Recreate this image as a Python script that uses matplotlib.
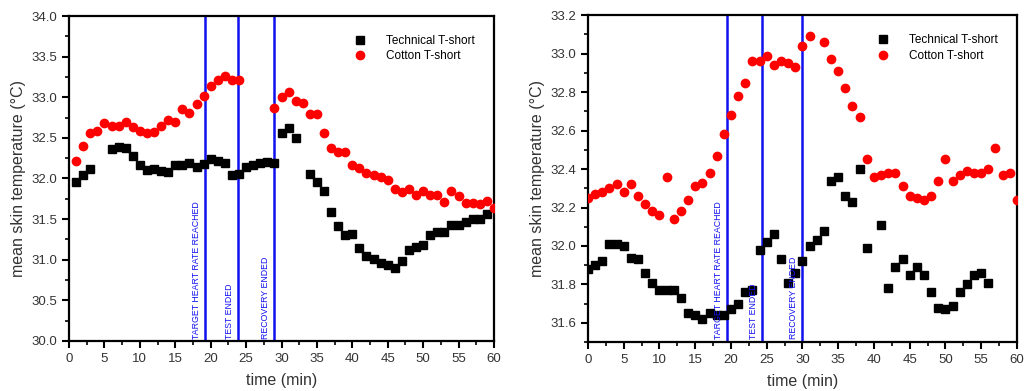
import matplotlib
matplotlib.use("Agg")
import matplotlib.pyplot as plt
from matplotlib.ticker import MultipleLocator, FormatStrFormatter

plt.rcParams['font.family'] = ['Liberation Sans', 'DejaVu Sans']

# left panel
left_tech_t = [1, 2, 3] + list(range(6, 33)) + list(range(34, 60))
left_tech_v = [31.96, 32.04, 32.12,
               32.36, 32.39, 32.38, 32.28, 32.17, 32.11, 32.12, 32.09, 32.08, 32.17,
               32.17, 32.19, 32.14, 32.18, 32.24, 32.22, 32.19, 32.04, 32.06, 32.14,
               32.16, 32.19, 32.20, 32.19, 32.56, 32.62, 32.50,
               32.05, 31.96, 31.85, 31.59, 31.41, 31.30, 31.32, 31.14, 31.05, 31.01,
               30.96, 30.93, 30.90, 30.98, 31.12, 31.16, 31.18, 31.30, 31.34, 31.34,
               31.43, 31.43, 31.46, 31.50, 31.50, 31.56]
left_cot_t = list(range(1, 25)) + list(range(29, 61))
left_cot_v = [32.21, 32.40, 32.56, 32.58, 32.68, 32.65, 32.65, 32.69, 32.63, 32.58,
              32.56, 32.57, 32.65, 32.72, 32.69, 32.85, 32.81, 32.92, 33.01, 33.14,
              33.21, 33.26, 33.21, 33.21,
              32.87, 33.00, 33.06, 32.96, 32.93, 32.79, 32.79, 32.56, 32.38, 32.32,
              32.33, 32.16, 32.13, 32.07, 32.04, 32.02, 31.98, 31.87, 31.83, 31.87,
              31.80, 31.84, 31.80, 31.80, 31.71, 31.84, 31.79, 31.70, 31.70, 31.69,
              31.72, 31.64]
left_events = [19.15, 23.8, 29.0]

# right panel
right_tech_t = list(range(0, 40)) + list(range(41, 57))
right_tech_v = [31.88, 31.90, 31.92, 32.01, 32.01, 32.00, 31.94, 31.93, 31.86, 31.81,
                31.77, 31.77, 31.77, 31.73, 31.65, 31.64, 31.62, 31.65, 31.64, 31.64,
                31.67, 31.70, 31.76, 31.77, 31.98, 32.02, 32.06, 31.93, 31.81, 31.86,
                31.92, 32.00, 32.03, 32.08, 32.34, 32.36, 32.26, 32.23, 32.40, 31.99,
                32.11, 31.78, 31.89, 31.93, 31.85, 31.89, 31.85, 31.76, 31.68, 31.67,
                31.69, 31.76, 31.80, 31.85, 31.86, 31.81]
right_cot_t = list(range(0, 32)) + list(range(33, 61))
right_cot_v = [32.25, 32.27, 32.28, 32.30, 32.32, 32.28, 32.32, 32.26, 32.22, 32.18,
               32.16, 32.36, 32.14, 32.18, 32.24, 32.31, 32.33, 32.38, 32.47, 32.58,
               32.68, 32.78, 32.85, 32.96, 32.96, 32.99, 32.94, 32.96, 32.95, 32.93,
               33.04, 33.09,
               33.06, 32.97, 32.91, 32.82, 32.73, 32.67, 32.45, 32.36, 32.37, 32.38,
               32.38, 32.31, 32.26, 32.25, 32.24, 32.26, 32.34, 32.45, 32.34, 32.37,
               32.39, 32.38, 32.38, 32.40, 32.51, 32.37, 32.38, 32.24]
right_events = [19.4, 24.4, 30.0]

event_labels = ["TARGET HEART RATE REACHED", "TEST ENDED", "RECOVERY ENDED"]
blue = '#1010f0'

fig = plt.figure(figsize=(10.27, 3.91), dpi=100)
ax1 = fig.add_axes([0.0672, 0.128, 0.4138, 0.831])
ax2 = fig.add_axes([0.5725, 0.125, 0.4177, 0.836])


def draw_panel(ax, tt, tv, ct, cv, events, ylim, major, minor, text_y):
    ax.plot(tt, tv, 's', color='black', ms=5.2, label='Technical T-short', zorder=3)
    ax.plot(ct, cv, 'o', color='red', ms=6, mec='red', label='Cotton T-short', zorder=3)
    for x in events:
        ax.axvline(x, color=blue, lw=1.8, zorder=2)
    for x, lab in zip(events, event_labels):
        ax.text(x - 1.2, text_y, lab, rotation=90, color=blue, fontsize=6.3,
                ha='center', va='bottom')
    ax.set_xlim(0, 60)
    ax.set_ylim(*ylim)
    ax.xaxis.set_major_locator(MultipleLocator(5))
    ax.xaxis.set_minor_locator(MultipleLocator(2.5))
    ax.yaxis.set_major_locator(MultipleLocator(major))
    ax.yaxis.set_minor_locator(MultipleLocator(minor))
    ax.yaxis.set_major_formatter(FormatStrFormatter('%.1f'))
    ax.tick_params(which='major', direction='out', length=5, width=1.5, labelsize=9.5,
                   colors='black', labelcolor='#333333', top=False, right=False)
    ax.tick_params(which='minor', direction='out', length=3, width=1.2,
                   top=False, right=False)
    for s in ax.spines.values():
        s.set_linewidth(1.6)
    ax.set_xlabel('time (min)', fontsize=11.5, color='#333333', labelpad=6)
    ax.set_ylabel('mean skin temperature (°C)', fontsize=11.5, color='#333333')
    ax.legend(loc='upper right', frameon=False, fontsize=8.5, handletextpad=1.2,
              borderaxespad=1.2, labelspacing=0.3)


draw_panel(ax1, left_tech_t, left_tech_v, left_cot_t, left_cot_v, left_events,
           (30.0, 34.0), 0.5, 0.25, 30.03)
draw_panel(ax2, right_tech_t, right_tech_v, right_cot_t, right_cot_v, right_events,
           (31.5, 33.2), 0.2, 0.1, 31.515)

fig.savefig('out.png', dpi=100)
